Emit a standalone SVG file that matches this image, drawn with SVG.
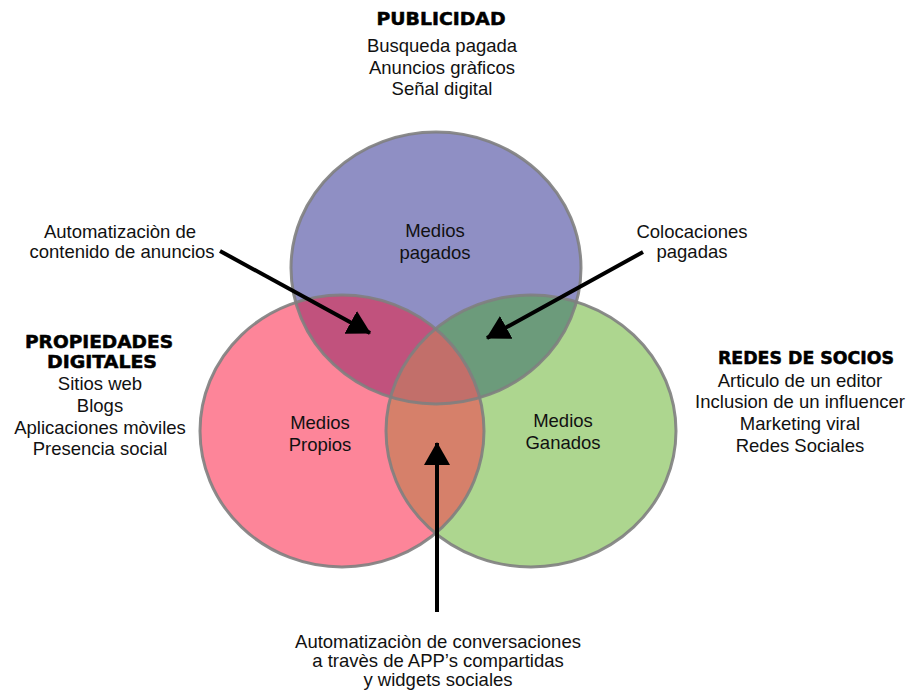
<svg xmlns="http://www.w3.org/2000/svg" width="912" height="694" viewBox="0 0 912 694">
<style>
.t{font-family:"Liberation Sans",Arial,sans-serif;font-size:18.5px;fill:#111;text-anchor:middle}
.h{font-family:"DejaVu Sans","Liberation Sans",sans-serif;font-weight:bold;font-size:17px;fill:#000;stroke:#000;stroke-width:0.5;text-anchor:middle}
.edge{fill:none;stroke:#808080;stroke-width:3;stroke-opacity:0.9}
.arrow{stroke:#000;stroke-width:4;fill:none;marker-end:url(#ah)}
</style>
<defs>
<marker id="ah" markerUnits="userSpaceOnUse" markerWidth="24" markerHeight="28" viewBox="0 0 24 28" refX="22" refY="14" orient="auto">
<path d="M0,1 L23,14 L0,27 Z" fill="#000"/>
</marker>
<clipPath id="cTop"><ellipse cx="436" cy="268" rx="145" ry="136"/></clipPath>
<clipPath id="cLeft"><ellipse cx="342" cy="431" rx="142" ry="136"/></clipPath>
</defs>
<rect width="912" height="694" fill="#fff"/>

<g id="paid">
<ellipse cx="436" cy="268" rx="145" ry="136" fill="#8F8FC4"/>
</g>
<g id="owned">
<ellipse cx="342" cy="431" rx="142" ry="136" fill="#FD8599"/>
</g>
<g id="earned">
<ellipse cx="531" cy="431" rx="145" ry="136" fill="#ADD68F"/>
</g>
<g id="overlaps">
<ellipse cx="342" cy="431" rx="142" ry="136" fill="#C1527D" clip-path="url(#cTop)"/>
<ellipse cx="531" cy="431" rx="145" ry="136" fill="#6C9B7B" clip-path="url(#cTop)"/>
<ellipse cx="531" cy="431" rx="145" ry="136" fill="#D6806A" clip-path="url(#cLeft)"/>
<g clip-path="url(#cTop)"><ellipse cx="531" cy="431" rx="145" ry="136" fill="#C26F6A" clip-path="url(#cLeft)"/></g>
</g>
<g id="outlines">
<ellipse class="edge" cx="436" cy="268" rx="145" ry="136"/>
<ellipse class="edge" cx="342" cy="431" rx="142" ry="136"/>
<ellipse class="edge" cx="531" cy="431" rx="145" ry="136"/>
</g>

<g id="paid-label">
<text class="t" x="435" y="237">Medios</text>
<text class="t" x="435" y="259">pagados</text>
</g>
<g id="owned-label">
<text class="t" x="320" y="429">Medios</text>
<text class="t" x="320" y="451">Propios</text>
</g>
<g id="earned-label">
<text class="t" x="563" y="427">Medios</text>
<text class="t" x="563" y="449">Ganados</text>
</g>

<g id="publicidad">
<text class="h" x="441" y="25" textLength="129" lengthAdjust="spacingAndGlyphs">PUBLICIDAD</text>
<text class="t" x="442" y="52">Busqueda pagada</text>
<text class="t" x="442" y="74">Anuncios gràficos</text>
<text class="t" x="442" y="95">Señal digital</text>
</g>
<g id="propiedades">
<text class="h" x="99" y="348" textLength="148" lengthAdjust="spacingAndGlyphs">PROPIEDADES</text>
<text class="h" x="102" y="368" textLength="110" lengthAdjust="spacingAndGlyphs">DIGITALES</text>
<text class="t" x="100" y="390">Sitios web</text>
<text class="t" x="100" y="412">Blogs</text>
<text class="t" x="100" y="434">Aplicaciones mòviles</text>
<text class="t" x="100" y="455">Presencia social</text>
</g>
<g id="redes">
<text class="h" x="806" y="364" textLength="176" lengthAdjust="spacingAndGlyphs">REDES DE SOCIOS</text>
<text class="t" x="800" y="387">Articulo de un editor</text>
<text class="t" x="800" y="408">Inclusion de un influencer</text>
<text class="t" x="800" y="430">Marketing viral</text>
<text class="t" x="800" y="452">Redes Sociales</text>
</g>
<g id="auto-anuncios">
<text class="t" x="120" y="238">Automatizaciòn de</text>
<text class="t" x="122" y="258">contenido de anuncios</text>
</g>
<g id="colocaciones">
<text class="t" x="692" y="238">Colocaciones</text>
<text class="t" x="692" y="258">pagadas</text>
</g>
<g id="auto-conversaciones">
<text class="t" x="438" y="648">Automatizaciòn de conversaciones</text>
<text class="t" x="438" y="667">a travès de APP’s compartidas</text>
<text class="t" x="438" y="686">y widgets sociales</text>
</g>

<g id="connectors">
<line class="arrow" x1="220" y1="251" x2="370" y2="333"/>
<line class="arrow" x1="643" y1="252" x2="487" y2="338"/>
<line class="arrow" x1="437" y1="612" x2="437" y2="443"/>
</g>
</svg>
